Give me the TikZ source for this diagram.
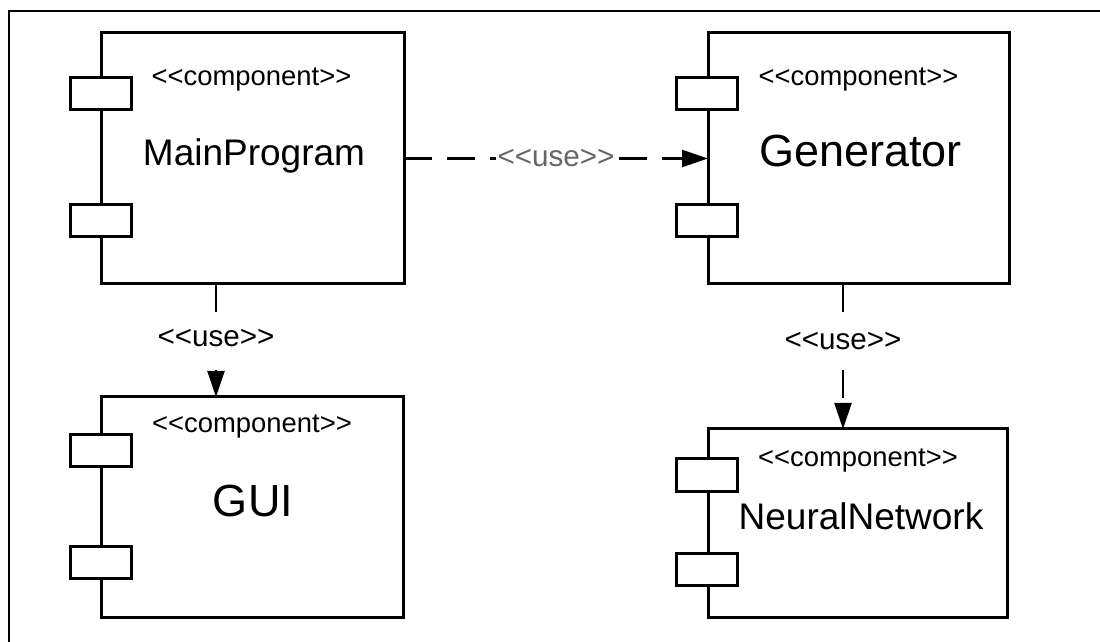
\documentclass[tikz,border=0pt]{standalone}
\usepackage{fontspec}
\setmainfont{Liberation Sans}[Ligatures=TeXOff]
\usetikzlibrary{arrows.meta}

\begin{document}
\begin{tikzpicture}[x=0.5pt,y=-0.5pt,
  comp/.style={draw,line width=1.5pt,inner sep=0pt,outer sep=0pt},
  port/.style={draw,fill=white,line width=1.5pt,inner sep=0pt,
    minimum width=30.5pt,minimum height=16pt},
  stereo/.style={anchor=base,font=\fontsize{13.7}{16}\selectfont},
  cname/.style={anchor=base,font=\fontsize{18.5}{22}\selectfont},
  bigname/.style={anchor=base,font=\fontsize{22.5}{27}\selectfont},
  uselbl/.style={fill=white,inner xsep=1pt,inner ysep=4pt,font=\fontsize{14.8}{17}\selectfont},
  usearrow/.style={line width=1.2pt,dash pattern=on 14pt off 7.5pt,
    -{Triangle[length=13pt,width=8.5pt]}}
]
  \useasboundingbox (0,0) rectangle (1100,642);
  \draw[line width=1pt] (9,642) -- (9,11) -- (1100,11);

  % MainProgram
  \node[comp,minimum width=151.5pt,minimum height=125.5pt] (main) at (252.5,158.5) {};
  \node[port] (main-p1) at (100.5,94) {};
  \node[port] (main-p2) at (100.5,221) {};
  \node[stereo] (main-st) at (251.5,86) {<<component>>};
  \node[cname] (main-nm) at (254,166) {MainProgram};

  % Generator
  \node[comp,minimum width=150.5pt,minimum height=125.5pt] (gen) at (858.5,158.5) {};
  \node[port] (gen-p1) at (707,94) {};
  \node[port] (gen-p2) at (707,221) {};
  \node[stereo] (gen-st) at (858.5,86) {<<component>>};
  \node[bigname] (gen-nm) at (860.5,166.5) {Generator};

  % GUI
  \node[comp,minimum width=151pt,minimum height=110pt] (gui) at (252,507) {};
  \node[port] (gui-p1) at (100.5,451) {};
  \node[port] (gui-p2) at (100.5,562.5) {};
  \node[stereo] (gui-st) at (252,433) {<<component>>};
  \node[bigname] (gui-nm) at (253,516.5) {GUI};

  % NeuralNetwork
  \node[comp,minimum width=149.5pt,minimum height=94pt] (nn) at (857.5,523) {};
  \node[port] (nn-p1) at (707,475) {};
  \node[port] (nn-p2) at (707,569.5) {};
  \node[stereo] (nn-st) at (858,466.5) {<<component>>};
  \node[cname] (nn-nm) at (861,530) {NeuralNetwork};

  % dependencies
  \coordinate (left-x) at (216,0);
  \coordinate (right-x) at (843,0);
  \draw[usearrow] (main.east) -- node[uselbl,inner ysep=1pt,text=black!60] {<<use>>} (gen.west);
  \draw[usearrow] (main.south -| left-x) -- node[uselbl,pos=0.48] {<<use>>} (gui.north -| left-x);
  \draw[usearrow] (gen.south -| right-x) -- node[uselbl,pos=0.39] {<<use>>} (nn.north -| right-x);
\end{tikzpicture}
\end{document}
